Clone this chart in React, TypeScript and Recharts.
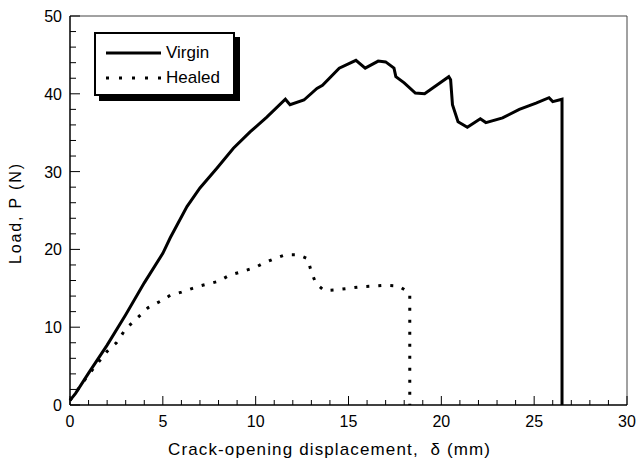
import React from "react";
import { LineChart, Line, XAxis, YAxis, ReferenceLine } from "recharts";

if (typeof document !== "undefined") document.body.style.margin = "0";

const FONT = "'Liberation Sans', Arial, Helvetica, sans-serif";

// Virgin specimen: crack-opening displacement (mm) vs load (N)
const virginX = [0, 0.3, 1, 2, 3, 4, 5, 5.4, 6.3, 7.0, 7.9, 8.8, 9.7, 10.6, 11.6, 11.85, 12.6, 13.3, 13.6, 14.5, 15.4, 15.9, 16.6, 17.0, 17.45, 17.55, 18.0, 18.6, 19.1, 20.4, 20.5, 20.6, 20.9, 21.4, 22.1, 22.4, 23.3, 24.2, 25.1, 25.8, 26.0, 26.5, 26.5];
const virginY = [0.6, 1.5, 4.1, 7.7, 11.6, 15.7, 19.5, 21.5, 25.5, 27.9, 30.4, 33.0, 35.1, 37.0, 39.3, 38.6, 39.2, 40.7, 41.1, 43.3, 44.3, 43.3, 44.2, 44.1, 43.3, 42.2, 41.4, 40.1, 40.0, 42.2, 41.8, 38.6, 36.4, 35.7, 36.8, 36.3, 36.9, 38.0, 38.8, 39.5, 39.0, 39.3, 0];

// Healed specimen
const healedX = [0, 1, 2, 2.5, 2.7, 3.0, 3.5, 4.2, 5.0, 5.4, 6.0, 6.6, 7.0, 8.0, 8.6, 9.2, 10.0, 10.4, 11.0, 11.6, 12.3, 12.8, 13.0, 13.25, 13.7, 14.3, 15.0, 15.7, 16.4, 17.0, 17.7, 18.1, 18.3, 18.3];
const healedY = [0.6, 3.9, 6.9, 8.0, 8.7, 9.8, 10.9, 12.5, 13.5, 14.1, 14.5, 15.0, 15.3, 15.9, 16.7, 17.1, 17.7, 18.2, 18.8, 19.3, 19.3, 18.8, 17.1, 15.6, 14.7, 14.8, 15.0, 15.2, 15.3, 15.4, 15.3, 14.7, 14.3, 0];

const xTicks = [0, 1, 2, 3, 4, 5, 6, 7, 8, 9, 10, 11, 12, 13, 14, 15, 16, 17, 18, 19, 20, 21, 22, 23, 24, 25, 26, 27, 28, 29, 30];
const yTicks = [0, 2, 4, 6, 8, 10, 12, 14, 16, 18, 20, 22, 24, 26, 28, 30, 32, 34, 36, 38, 40, 42, 44, 46, 48, 50];

const virginData = virginX.map((x, i) => ({ x, y: virginY[i] }));
const healedData = healedX.map((x, i) => ({ x, y: healedY[i] }));

const W = 636;
const H = 464;
const M = { top: 16, right: 9, left: 70, bottom: 59 };
// data units per pixel, used to size the inward tick marks
const xUnit = 30 / (W - M.left - M.right);
const yUnit = 50 / (H - M.top - M.bottom);

function XTick(props: any) {
  const { x, y, payload } = props;
  if (Number(payload.value) % 5 !== 0) return <g />;
  return (
    <text x={Number(x)} y={Number(y) + 22} textAnchor="middle" fontSize={16} fontFamily={FONT} fill="#000">
      {payload.value}
    </text>
  );
}

function YTick(props: any) {
  const { x, y, payload } = props;
  if (Number(payload.value) % 10 !== 0) return <g />;
  return (
    <text x={Number(x) - 8} y={Number(y) + 6} textAnchor="end" fontSize={16} fontFamily={FONT} fill="#000">
      {payload.value}
    </text>
  );
}

function LegendBox() {
  const rows = [
    { name: "Virgin", dash: undefined },
    { name: "Healed", dash: "3 10" },
  ];
  return (
    <div
      style={{
        position: "absolute",
        left: 94,
        top: 32,
        width: 137,
        height: 54,
        border: "2px solid #000",
        boxShadow: "5px 5px 0 #000",
        background: "#fff",
        boxSizing: "content-box",
        fontFamily: FONT,
        fontSize: 17,
        paddingTop: 6,
      }}
    >
      {rows.map((r) => (
        <div key={r.name} style={{ display: "flex", alignItems: "center", height: 25 }}>
          <svg width={70} height={10} style={{ display: "block" }}>
            <line x1={10} x2={65} y1={5} y2={5} stroke="#000" strokeWidth={3} strokeDasharray={r.dash} />
          </svg>
          <span>{r.name}</span>
        </div>
      ))}
    </div>
  );
}

export default function App() {
  return (
    <div style={{ position: "relative", width: W, height: H }}>
      <LineChart width={W} height={H} margin={{ top: M.top, right: M.right, bottom: 0, left: 0 }}>
        <ReferenceLine y={50} stroke="#444" strokeWidth={1} />
        <ReferenceLine x={30} stroke="#444" strokeWidth={1} />
        {xTicks.map((t) => (
          <ReferenceLine
            key={`xt-${t}`}
            segment={[
              { x: t, y: 0 },
              { x: t, y: (t % 5 === 0 ? 9 : 5) * yUnit },
            ]}
            stroke="#000"
            strokeWidth={1}
            ifOverflow="visible"
          />
        ))}
        {yTicks.map((t) => (
          <ReferenceLine
            key={`yt-${t}`}
            segment={[
              { x: 0, y: t },
              { x: (t % 10 === 0 ? 10 : 6) * xUnit, y: t },
            ]}
            stroke="#000"
            strokeWidth={1}
            ifOverflow="visible"
          />
        ))}
        <Line data={virginData} dataKey="y" type="linear" dot={false} stroke="#000" strokeWidth={3} isAnimationActive={false} />
        <Line data={healedData} dataKey="y" type="linear" dot={false} stroke="#000" strokeWidth={3} strokeDasharray="3 9" isAnimationActive={false} />
        <XAxis
          dataKey="x"
          type="number"
          domain={[0, 30]}
          ticks={xTicks}
          interval={0}
          tickSize={0}
          tickMargin={0}
          tickLine={false}
          tick={(p: any) => <XTick {...p} />}
          height={M.bottom}
          axisLine={{ stroke: "#000", strokeWidth: 1.5 }}
          label={{
            content: () => (
              <text x={329} y={455} textAnchor="middle" fontSize={17} fontFamily={FONT} fill="#000" textLength={322} lengthAdjust="spacing" style={{ whiteSpace: "pre" }}>
                {"Crack-opening displacement,  δ (mm)"}
              </text>
            ),
          }}
        />
        <YAxis
          type="number"
          domain={[0, 50]}
          ticks={yTicks}
          interval={0}
          tickSize={0}
          tickMargin={0}
          tickLine={false}
          tick={(p: any) => <YTick {...p} />}
          width={M.left}
          axisLine={{ stroke: "#000", strokeWidth: 1.5 }}
          label={{
            content: () => (
              <text x={21} y={214} transform="rotate(-90, 21, 214)" textAnchor="middle" fontSize={16} fontFamily={FONT} fill="#000" textLength={100} lengthAdjust="spacing">
                Load, P (N)
              </text>
            ),
          }}
        />
      </LineChart>
      <LegendBox />
    </div>
  );
}
